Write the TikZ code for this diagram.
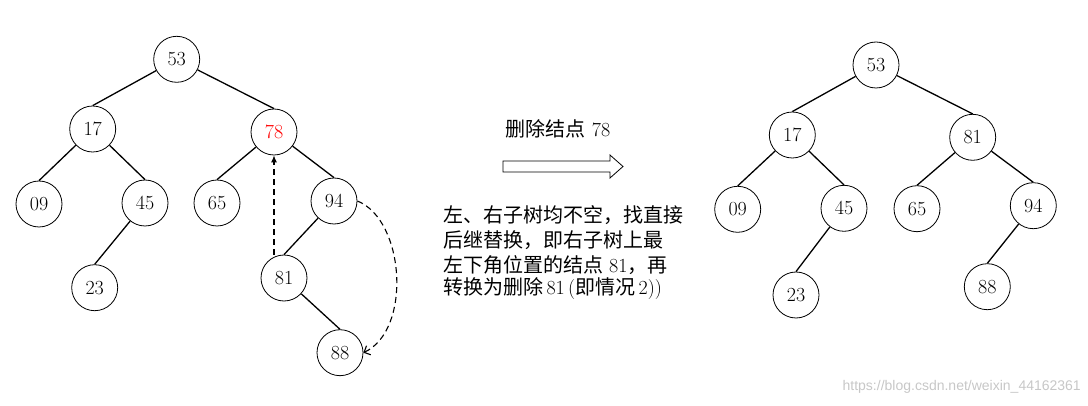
\documentclass[tikz,border=0pt]{standalone}
\usepackage{fontspec}
\newfontfamily\cjk{Noto Sans CJK SC}
\newfontfamily\wm{Liberation Sans}
\usetikzlibrary{arrows.meta}
\tikzset{
  tn/.style={circle, draw, line width=0.8pt, minimum size=46pt, inner sep=0pt, font=\fontsize{20}{22}\selectfont},
  te/.style={line width=1.3pt},
  dsh/.style={line width=1.1pt, dash pattern=on 6pt off 4pt},
  para/.style={anchor=west, inner sep=0pt, font=\fontsize{20}{22}\selectfont},
}
\begin{document}
\begin{tikzpicture}[x=1pt,y=-1pt]
\useasboundingbox (0,0) rectangle (1088,406);
% left tree
\node[tn] (a53) at (176.7,59.3) {53};
\node[tn] (a17) at (92.7,129) {17};
\node[tn,text=red] (a78) at (274,132) {78};
\node[tn] (a09) at (39,204) {09};
\node[tn] (a45) at (145,203) {45};
\node[tn] (a65) at (217,203) {65};
\node[tn] (a94) at (334,201) {94};
\node[tn] (a23) at (94.7,287.7) {23};
\node[tn] (a81) at (284,278) {81};
\node[tn] (a88) at (340,352.7) {88};
\draw[te] (a53) -- (a17.north);
\draw[te] (a53) -- (a78.north);
\draw[te] (a17) -- (a09.north);
\draw[te] (a17) -- (a45.north);
\draw[te] (a45) -- (a23.north);
\draw[te] (a78) -- (a65.north);
\draw[te] (a78) -- (a94.north);
\draw[te] (a94) -- (a81.north);
\draw[te] (a81) -- (a88.north);
\coordinate (up) at (a81.north -| a78.south);
\draw[dsh,-{Latex[length=7pt,width=6pt]}] (up) -- (a78.south);
\draw[dsh,-{Straight Barb[length=5pt,width=10pt]}] (a94.east) .. controls (405,220) and (412,330) .. (a88.east);
% middle
\node[inner sep=0pt, font=\fontsize{20}{22}\selectfont] (title) at (558,129) {{\cjk 删除结点} 78};
\draw[line width=0.8pt] (503,161) -- (610,161) -- (610,155) -- (623,166.5) -- (610,178) -- (610,172) -- (503,172) -- cycle;
\node[para] (l1) at (443,215) {\cjk 左、右子树均不空，找直接};
\node[para] (l2) at (443,240) {\cjk 后继替换，即右子树上最};
\node[para] (l3) at (443,265) {{\cjk 左下角位置的结点} 81{\cjk ，再}};
\node[para] (l4) at (443,289) {{\cjk 转换为删除}\,81\,({\cjk 即情况}\,2))};
% right tree
\node[tn] (b53) at (876,65) {53};
\node[tn] (b17) at (792.3,135) {17};
\node[tn] (b81) at (972.7,137.3) {81};
\node[tn] (b09) at (737.7,209.3) {09};
\node[tn] (b45) at (844,208.3) {45};
\node[tn] (b65) at (917,208.7) {65};
\node[tn] (b94) at (1033.3,205.7) {94};
\node[tn] (b23) at (796,295) {23};
\node[tn] (b88) at (987.3,286.7) {88};
\draw[te] (b53) -- (b17.north);
\draw[te] (b53) -- (b81.north);
\draw[te] (b17) -- (b09.north);
\draw[te] (b17) -- (b45.north);
\draw[te] (b45) -- (b23.north);
\draw[te] (b81) -- (b65.north);
\draw[te] (b81) -- (b94.north);
\draw[te] (b94) -- (b88.north);
% watermark
\node[anchor=east, inner sep=0pt, text=black!22, font=\wm\fontsize{14}{16}\selectfont] (wm) at (1081,387) {https://blog.csdn.net/weixin\_44162361};
\end{tikzpicture}
\end{document}
